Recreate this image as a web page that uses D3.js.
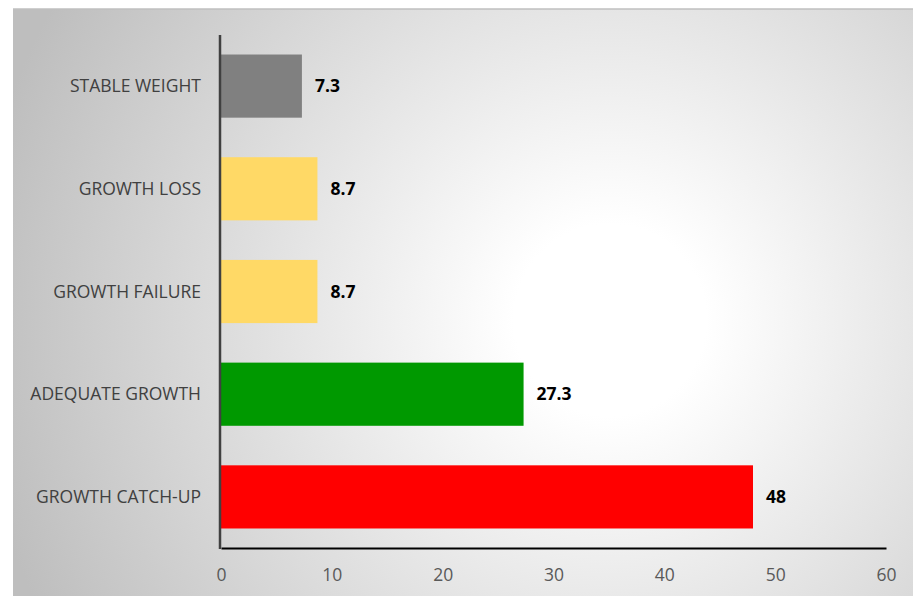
<!DOCTYPE html>
<html><head><meta charset="utf-8">
<script src="https://cdn.jsdelivr.net/npm/d3@7"></script>
<style>body{margin:0;background:#fff}svg{display:block}</style>
</head><body>
<svg id="c" width="913" height="596"></svg>
<script>
const categories = ["STABLE WEIGHT","GROWTH LOSS","GROWTH FAILURE","ADEQUATE GROWTH","GROWTH CATCH-UP"];
const values = [7.3, 8.7, 8.7, 27.3, 48];
const valueLabels = ["7.3","8.7","8.7","27.3","48"];
const barColors = ["#808080","#FFD966","#FFD966","#009900","#FF0000"];
const xTicks = [0,10,20,30,40,50,60];

const svg = d3.select("#c");
const defs = svg.append("defs");
const g = defs.append("radialGradient").attr("id","bg")
  .attr("gradientUnits","userSpaceOnUse").attr("cx",610).attr("cy",320).attr("r",640);
g.append("stop").attr("offset","0").attr("stop-color","#ffffff");
g.append("stop").attr("offset","0.15").attr("stop-color","#ffffff");
g.append("stop").attr("offset","1").attr("stop-color","#bebebe");
svg.append("rect").attr("x",13).attr("y",9).attr("width",900).attr("height",587).attr("fill","url(#bg)");
svg.append("line").attr("x1",13).attr("x2",913).attr("y1",9).attr("y2",9).attr("stroke","#bfbfbf").attr("stroke-width",1.5);

const x = d3.scaleLinear().domain([0,60]).range([221,886]);
const y = d3.scaleBand().domain(categories).range([35,548]).paddingInner(0.385).paddingOuter(0.19);

svg.selectAll("rect.bar").data(values).join("rect").attr("class","bar")
  .attr("x",x(0)).attr("y",(d,i)=>y(categories[i]))
  .attr("width",d=>x(d)-x(0)).attr("height",y.bandwidth())
  .attr("fill",(d,i)=>barColors[i]);

svg.selectAll("text.val").data(values).join("text").attr("class","val")
  .attr("x",d=>x(d)+13).attr("y",(d,i)=>y(categories[i])+y.bandwidth()/2)
  .attr("dy","0.35em").attr("font-family","Open Sans, sans-serif").attr("font-weight","bold")
  .attr("font-size",17.5).attr("fill","#000").text((d,i)=>valueLabels[i]);

svg.selectAll("text.cat").data(categories).join("text").attr("class","cat")
  .attr("x",201).attr("y",d=>y(d)+y.bandwidth()/2).attr("dy","0.35em")
  .attr("text-anchor","end").attr("font-family","Open Sans, sans-serif")
  .attr("font-size",17.5).attr("fill","#404040").text(d=>d);

// axes
const xAxis = svg.append("g").attr("transform","translate(0,548)")
  .call(d3.axisBottom(x).tickValues(xTicks).tickSize(0).tickPadding(21));
xAxis.select(".domain").attr("stroke","#000").attr("stroke-width",2);
xAxis.selectAll("text").attr("font-family","Open Sans, sans-serif").attr("font-size",17.5).attr("fill","#595959");

svg.append("line").attr("x1",220).attr("x2",220).attr("y1",35).attr("y2",549)
  .attr("stroke","#404040").attr("stroke-width",2.5);
</script>
</body></html>
